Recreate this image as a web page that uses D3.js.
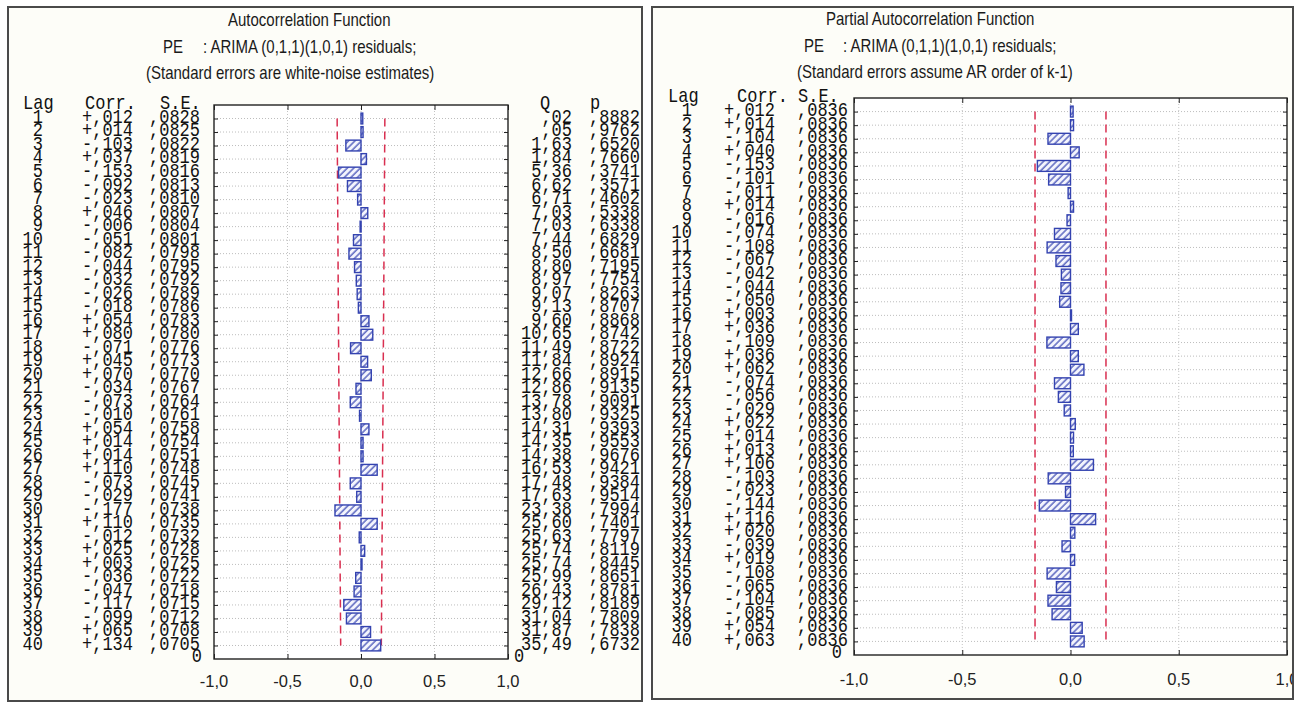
<!DOCTYPE html>
<html><head><meta charset="utf-8">
<script src="https://cdn.jsdelivr.net/npm/d3@7"></script>
<style>body{margin:0;background:#fff}svg{display:block}</style>
</head><body>
<svg id="c" width="1298" height="702"></svg>
<script>
// Residual autocorrelations of PE after ARIMA (0,1,1)(1,0,1)
const lags = d3.range(1, 41);
const acfCorr = [0.012, 0.014, -0.103, 0.037, -0.153, -0.092, -0.023, 0.046, -0.006, -0.051,
  -0.082, -0.044, -0.032, -0.026, -0.018, 0.054, 0.080, -0.071, 0.045, 0.070,
  -0.034, -0.073, -0.010, 0.054, 0.014, 0.014, 0.110, -0.073, -0.029, -0.177,
  0.110, -0.012, 0.025, 0.003, -0.036, -0.047, -0.117, -0.099, 0.065, 0.134];
const acfSE = [0.0828, 0.0825, 0.0822, 0.0819, 0.0816, 0.0813, 0.0810, 0.0807, 0.0804, 0.0801,
  0.0798, 0.0795, 0.0792, 0.0789, 0.0786, 0.0783, 0.0780, 0.0776, 0.0773, 0.0770,
  0.0767, 0.0764, 0.0761, 0.0758, 0.0754, 0.0751, 0.0748, 0.0745, 0.0741, 0.0738,
  0.0735, 0.0732, 0.0728, 0.0725, 0.0722, 0.0718, 0.0715, 0.0712, 0.0708, 0.0705];
const acfQ = [0.02, 0.05, 1.63, 1.84, 5.36, 6.62, 6.71, 7.03, 7.03, 7.44,
  8.50, 8.80, 8.97, 9.07, 9.13, 9.60, 10.65, 11.49, 11.84, 12.66,
  12.86, 13.78, 13.80, 14.31, 14.35, 14.38, 16.53, 17.48, 17.63, 23.38,
  25.60, 25.63, 25.74, 25.74, 25.99, 26.43, 29.12, 31.04, 31.87, 35.49];
const acfP = [0.8882, 0.9762, 0.6520, 0.7660, 0.3741, 0.3571, 0.4602, 0.5338, 0.6338, 0.6829,
  0.6681, 0.7195, 0.7754, 0.8263, 0.8707, 0.8868, 0.8742, 0.8722, 0.8924, 0.8915,
  0.9135, 0.9091, 0.9325, 0.9393, 0.9553, 0.9676, 0.9421, 0.9384, 0.9514, 0.7994,
  0.7401, 0.7797, 0.8119, 0.8445, 0.8651, 0.8781, 0.8189, 0.7809, 0.7838, 0.6732];
const pacfCorr = [0.012, 0.014, -0.104, 0.040, -0.153, -0.101, -0.011, 0.014, -0.016, -0.074,
  -0.108, -0.067, -0.042, -0.044, -0.050, 0.003, 0.036, -0.109, 0.036, 0.062,
  -0.074, -0.056, -0.029, 0.022, 0.014, 0.013, 0.106, -0.103, -0.023, -0.144,
  0.116, 0.020, -0.039, 0.019, -0.108, -0.065, -0.104, -0.085, 0.054, 0.063];
const pacfSE = [0.0836, 0.0836, 0.0836, 0.0836, 0.0836, 0.0836, 0.0836, 0.0836, 0.0836, 0.0836,
  0.0836, 0.0836, 0.0836, 0.0836, 0.0836, 0.0836, 0.0836, 0.0836, 0.0836, 0.0836,
  0.0836, 0.0836, 0.0836, 0.0836, 0.0836, 0.0836, 0.0836, 0.0836, 0.0836, 0.0836,
  0.0836, 0.0836, 0.0836, 0.0836, 0.0836, 0.0836, 0.0836, 0.0836, 0.0836, 0.0836];
const xTicks = [-1, -0.5, 0, 0.5, 1];
const xTickLabels = ["-1,0", "-0,5", "0,0", "0,5", "1,0"];

const MONO = "'Liberation Mono', 'DejaVu Sans Mono', monospace";
const SANS = "'Liberation Sans', Arial, sans-serif";
const BLUE = "#3443b0";
const RED = "#d92f50";

const svg = d3.select("#c");
const defs = svg.append("defs");
const pat = defs.append("pattern").attr("id", "hatch")
  .attr("patternUnits", "userSpaceOnUse").attr("width", 4.6).attr("height", 4.6)
  .attr("patternTransform", "rotate(45)");
pat.append("rect").attr("width", 4.6).attr("height", 4.6).attr("fill", "#f4f5fd");
pat.append("line").attr("x1", 1).attr("y1", 0).attr("x2", 1).attr("y2", 4.6)
  .attr("stroke", BLUE).attr("stroke-width", 1.2);

const fmtCorr = v => (v < 0 ? "-" : "+") + "," + d3.format("03d")(Math.round(Math.abs(v) * 1000));
const fmtSE = v => "," + d3.format("04d")(Math.round(v * 10000));
const fmtQ = v => d3.format(".2f")(v).replace(/^0/, "").replace(".", ",");
const fmtP = v => "," + d3.format("04d")(Math.round(v * 10000));

function txt(g, s, x, y, o = {}) {
  return g.append("text")
    .attr("transform", `translate(${x},${y}) scale(1,${o.sy || 1})`)
    .attr("text-anchor", o.anchor || "start")
    .attr("dominant-baseline", "central")
    .attr("font-family", o.family || MONO)
    .attr("font-size", o.size || 17)
    .attr("fill", o.fill || "#111")
    .text(s);
}

function drawPanel(cfg) {
  const [bx0, by0, bx1, by1] = cfg.box;
  const clipId = "clip" + cfg.id;
  defs.append("clipPath").attr("id", clipId).append("rect")
    .attr("x", bx0).attr("y", by0).attr("width", bx1 - bx0).attr("height", by1 - by0);
  const g = svg.append("g").attr("clip-path", `url(#${clipId})`);
  g.append("rect").attr("x", bx0).attr("y", by0).attr("width", bx1 - bx0).attr("height", by1 - by0)
    .attr("fill", "#fdfdf8");

  const [px0, py0, px1, py1] = cfg.plot;
  const x = d3.scaleLinear().domain([-1, 1]).range([px0, px1]);
  // lag 1 in the first row under the top edge, the last row just above the bottom edge
  const y = d3.scaleLinear().domain([0, 41]).range([py0, py1]);
  const step = Math.abs(y(1) - y(0));

  // titles
  cfg.titles.forEach(t => txt(g, t.s, t.x, t.y, { family: SANS, size: 15, sy: 1.25, fill: "#1a1a1a" }));

  // plot area
  g.append("rect").attr("x", px0).attr("y", py0).attr("width", px1 - px0).attr("height", py1 - py0)
    .attr("fill", "#fff");

  // dotted grid
  g.append("g").selectAll("line").data(lags).join("line")
    .attr("x1", px0).attr("x2", px1).attr("y1", d => y(d)).attr("y2", d => y(d))
    .attr("stroke", "#bdbdbd").attr("stroke-dasharray", "1,2").attr("stroke-width", 1);
  g.append("g").selectAll("line").data(xTicks.slice(1, -1)).join("line")
    .attr("x1", d => x(d)).attr("x2", d => x(d)).attr("y1", py0).attr("y2", py1)
    .attr("stroke", "#c4c4c4").attr("stroke-dasharray", "1,2").attr("stroke-width", 1);

  // confidence limits (±1.96 S.E.)
  const lim = (sgn) => d3.line().x((d, i) => x(sgn * 1.96 * cfg.se[i])).y(d => y(d));
  [-1, 1].forEach(sgn => g.append("path").datum(lags).attr("d", lim(sgn))
    .attr("fill", "none").attr("stroke", RED).attr("stroke-width", 1.5)
    .attr("stroke-dasharray", "8,5"));

  // bars
  const bh = step * 0.8;
  g.append("g").selectAll("rect").data(lags).join("rect")
    .attr("x", (d, i) => Math.min(x(0), x(cfg.corr[i])))
    .attr("y", d => y(d) - bh / 2)
    .attr("width", (d, i) => Math.max(1, Math.abs(x(cfg.corr[i]) - x(0))))
    .attr("height", bh)
    .attr("fill", "url(#hatch)").attr("stroke", BLUE).attr("stroke-width", 1.4);

  // frame and ticks
  g.append("rect").attr("x", px0).attr("y", py0).attr("width", px1 - px0).attr("height", py1 - py0)
    .attr("fill", "none").attr("stroke", "#222").attr("stroke-width", 1.4);
  const axL = d3.axisLeft(y).tickValues(lags).tickSize(-4).tickFormat("");
  const axR = d3.axisRight(y).tickValues(lags).tickSize(-4).tickFormat("");
  const axB = d3.axisBottom(x).tickValues(xTicks).tickSize(-5).tickFormat("");
  const axT = d3.axisTop(x).tickValues(xTicks).tickSize(-5).tickFormat("");
  [[axL, `translate(${px0},0)`], [axR, `translate(${px1},0)`],
   [axB, `translate(0,${py1})`], [axT, `translate(0,${py0})`]].forEach(([ax, tr]) => {
    const a = g.append("g").attr("transform", tr).call(ax);
    a.select(".domain").remove();
    a.selectAll("line").attr("stroke", "#222");
  });

  // x tick labels
  xTicks.forEach((v, i) => txt(g, xTickLabels[i], x(v), cfg.labelY,
    { family: SANS, size: 16.5, anchor: "middle", fill: "#222" }));

  // table
  const tOpt = { size: 17, sy: 1.2 };
  cfg.headers.forEach(h => txt(g, h[0], h[1], py0 + cfg.headDy, tOpt));
  lags.forEach((lag, i) => {
    const yy = y(lag) - 1;
    txt(g, String(lag), cfg.cols.lag, yy, { ...tOpt, anchor: "end" });
    txt(g, fmtCorr(cfg.corr[i]), cfg.cols.corr, yy, { ...tOpt, anchor: "end" });
    txt(g, fmtSE(cfg.se[i]), cfg.cols.se, yy, { ...tOpt, anchor: "end" });
    if (cfg.q) {
      txt(g, fmtQ(cfg.q[i]), cfg.cols.q, yy, { ...tOpt, anchor: "end" });
      txt(g, fmtP(cfg.p[i]), cfg.cols.p, yy, { ...tOpt, anchor: "end" });
    }
  });
  cfg.zeros.forEach(z => txt(g, "0", z[0], py1 - 2, { ...tOpt, anchor: z[1] }));

  // panel border
  g.append("rect").attr("x", bx0 + 1).attr("y", by0 + 1).attr("width", bx1 - bx0 - 2).attr("height", by1 - by0 - 2)
    .attr("fill", "none").attr("stroke", "#4a4a4a").attr("stroke-width", 2);
}

drawPanel({
  id: "acf", box: [7, 6, 643, 702], plot: [214, 105, 508, 659], labelY: 681,
  corr: acfCorr, se: acfSE, q: acfQ, p: acfP, headDy: -1,
  cols: { lag: 43, corr: 133, se: 200, q: 572, p: 640 },
  headers: [["Lag", 23], ["Corr.", 85], ["S.E.", 160], ["Q", 540], ["p", 590]],
  zeros: [[202, "end"], [514, "start"]],
  titles: [
    { s: "Autocorrelation Function", x: 228, y: 20 },
    { s: "PE", x: 163, y: 47 },
    { s: ": ARIMA (0,1,1)(1,0,1) residuals;", x: 203, y: 47 },
    { s: "(Standard errors are white-noise estimates)", x: 146, y: 73 }
  ]
});

drawPanel({
  id: "pacf", box: [651, 6, 1294, 700], plot: [854, 98, 1287, 655], labelY: 679,
  corr: pacfCorr, se: pacfSE, headDy: -1,
  cols: { lag: 692, corr: 775, se: 848 },
  headers: [["Lag", 668], ["Corr.", 737], ["S.E.", 798]],
  zeros: [[842, "end"]],
  titles: [
    { s: "Partial Autocorrelation Function", x: 826, y: 19 },
    { s: "PE", x: 804, y: 46 },
    { s: ": ARIMA (0,1,1)(1,0,1) residuals;", x: 843, y: 46 },
    { s: "(Standard errors assume AR order of k-1)", x: 797, y: 72 }
  ]
});
</script>
</body></html>
